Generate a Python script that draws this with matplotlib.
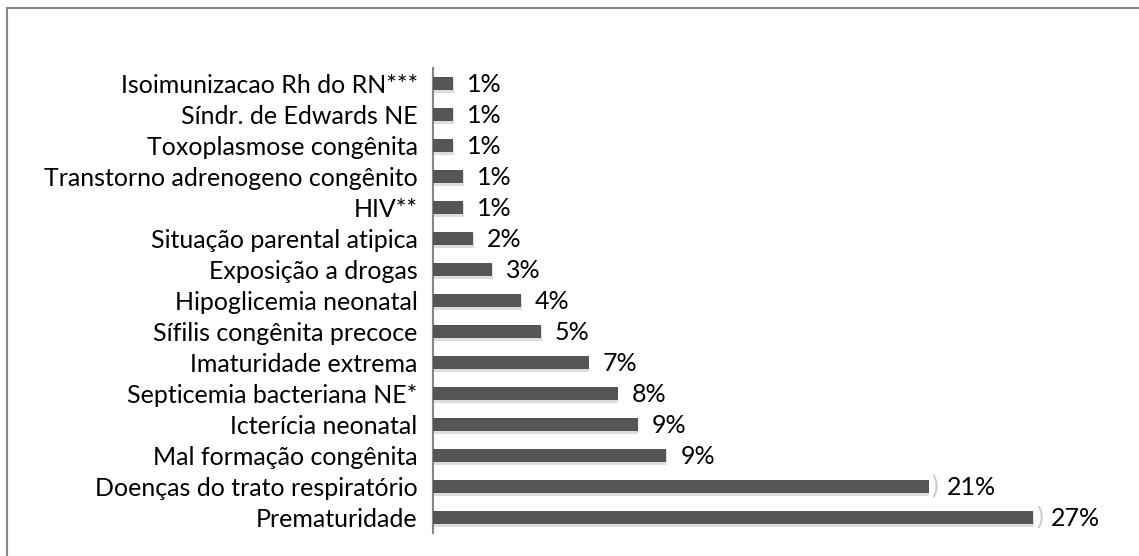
import matplotlib.pyplot as plt
import matplotlib.patheffects as pe
from matplotlib.patches import Rectangle

# categories top -> bottom
causas = ["Isoimunizacao Rh do RN***", "Síndr. de Edwards NE", "Toxoplasmose congênita",
          "Transtorno adrenogeno congênito", "HIV**", "Situação parental atipica",
          "Exposição a drogas", "Hipoglicemia neonatal", "Sífilis congênita precoce",
          "Imaturidade extrema", "Septicemia bacteriana NE*", "Icterícia neonatal",
          "Mal formação congênita", "Doenças do trato respiratório", "Prematuridade"]
valores = [0.9, 0.9, 0.9, 1.35, 1.35, 1.8, 2.65, 3.95, 4.85, 7.0, 8.3, 9.2, 10.5, 22.3, 27.0]
rotulos = ["1%", "1%", "1%", "1%", "1%", "2%", "3%", "4%", "5%", "7%", "8%", "9%", "9%", "21%", "27%"]

plt.rcParams['font.family'] = ['Lato', 'DejaVu Sans']

W, H = 1139, 556
fig = plt.figure(figsize=(W / 100, H / 100), dpi=100)
ax = fig.add_axes([433 / W, 1 - 533 / H, (1100 - 433) / W, 465 / H])

y = list(range(len(causas)))
bars = ax.barh(y, valores, height=0.44, color='#555555', zorder=3)
for b in bars:
    b.set_path_effects([pe.SimplePatchShadow(offset=(0.5, -2), shadow_rgbFace='#aaaaaa', alpha=0.4),
                        pe.Normal()])

for yi, v, r in zip(y, valores, rotulos):
    dx = 13 if v > 20 else 10
    ax.annotate(r, (v, yi), xytext=(dx, -1), textcoords='offset points',
                va='center', ha='left', fontsize=18, color='black')
    if v > 20:
        ax.annotate(")", (v, yi), xytext=(2, 0), textcoords='offset points',
                    va='center', ha='left', fontsize=18, color='#cccccc')

ax.set_xlim(0, 30)
ax.set_ylim(len(causas) - 0.5, -0.5)
ax.set_yticks(y)
ax.set_yticklabels(causas, fontsize=18)
ax.tick_params(axis='y', length=0, pad=11)
ax.set_xticks([])
for s in ['top', 'right', 'bottom']:
    ax.spines[s].set_visible(False)
ax.spines['left'].set_color('#868686')
ax.spines['left'].set_linewidth(1.5)

# outer chart frame
fig.add_artist(Rectangle((7 / W, -0.05), 1.2, 1 - 8 / H + 0.05, transform=fig.transFigure,
                         fill=False, edgecolor='#888888', linewidth=1.5))

fig.savefig("out.png", dpi=100)
